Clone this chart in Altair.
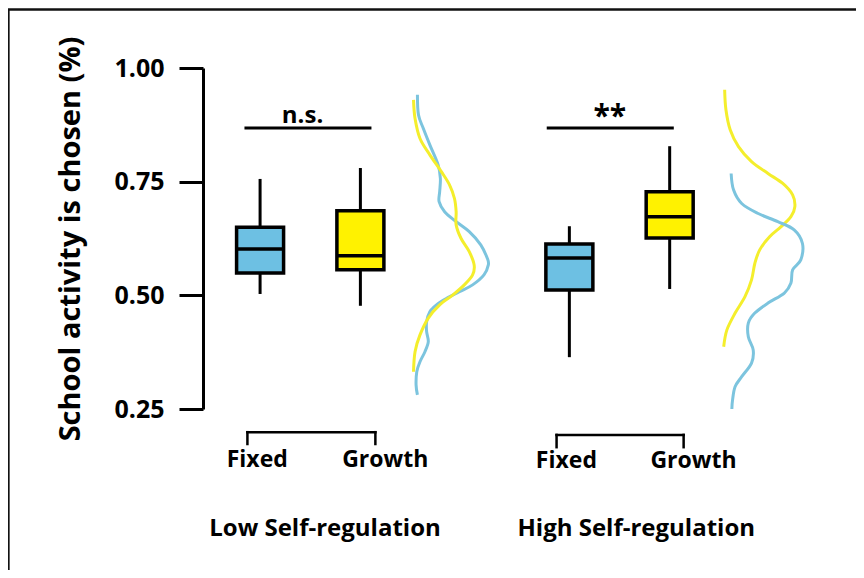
import altair as alt
import pandas as pd

# ---------------- data ----------------
groups = ["Low Self-regulation", "High Self-regulation"]
mindsets = ["Fixed", "Growth"]
box_group = ["Low", "Low", "High", "High"]
box_mindset = ["Fixed", "Growth", "Fixed", "Growth"]
box_lo = [0.503, 0.477, 0.364, 0.514]
box_q1 = [0.549, 0.556, 0.512, 0.626]
box_med = [0.602, 0.587, 0.582, 0.673]
box_q3 = [0.650, 0.686, 0.613, 0.728]
box_hi = [0.756, 0.780, 0.652, 0.828]
significance = ["n.s.", "**"]
tick_values = [0.25, 0.50, 0.75, 1.00]

# density curves (value, density position)
low_fixed_v = [.941, .897, .867, .831, .787, .757, .728, .706, .684, .662, .640, .611, .581, .567,
               .545, .523, .508, .493, .479, .464, .442, .420, .398, .376, .354, .332, .303, .281]
low_fixed_d = [3.257, 3.273, 3.349, 3.450, 3.579, 3.614, 3.603, 3.594, 3.680, 3.859, 4.063, 4.242,
               4.345, 4.360, 4.292, 4.115, 3.910, 3.706, 3.553, 3.450, 3.400, 3.400, 3.426, 3.374,
               3.297, 3.247, 3.236, 3.257]
low_growth_v = [.930, .889, .845, .809, .772, .743, .713, .684, .655, .625, .596, .567, .545, .523,
                .501, .479, .450, .413, .376, .332]
low_growth_d = [3.196, 3.220, 3.297, 3.450, 3.629, 3.756, 3.833, 3.859, 3.859, 3.936, 4.063, 4.139,
                4.115, 3.986, 3.809, 3.603, 3.426, 3.297, 3.220, 3.196]
high_growth_v = [.952, .908, .864, .827, .794, .768, .746, .721, .695, .673, .651, .629, .600, .570,
                 .534, .497, .461, .424, .387]
high_growth_d = [8.035, 8.055, 8.121, 8.250, 8.453, 8.709, 8.939, 9.092, 9.127, 9.066, 8.913, 8.734,
                 8.580, 8.504, 8.453, 8.351, 8.198, 8.070, 8.020]
high_fixed_v = [.768, .732, .702, .680, .662, .644, .614, .578, .556, .527, .505, .483, .461, .439,
                .409, .380, .351, .321, .299, .270, .250]
high_fixed_d = [8.136, 8.173, 8.300, 8.556, 8.862, 9.116, 9.245, 9.219, 9.092, 9.066, 8.963, 8.709,
                8.504, 8.403, 8.403, 8.479, 8.453, 8.300, 8.197, 8.158, 8.147]

# ---------------- layout (positions on the hidden x scale) ----------------
box_x = [0.81, 2.37, 5.62, 7.18]
sig_x1, sig_x2, sig_y = [0.567, 5.268], [2.542, 7.244], [0.868, 0.868]
sig_text_x, sig_text_y = [1.47, 6.248], [0.879, 0.872]
br_x1, br_x2 = [0.613, 5.421], [2.603, 7.397]
br_top, br_bot = [0.199, 0.193], [0.173, 0.166]
lab_x = [0.766, 2.757, 5.574, 7.551]
lab_y = [0.123, 0.123, 0.121, 0.121]
grp_x = [1.82, 6.66]
grp_y = [-0.029, -0.029]

W, H = 653, 341
BLUE, YELLOW = "#6DC0E3", "#FFF200"
DBLUE, DYELLOW = "#7CC4DE", "#F4EE2C"
FONT = "Open Sans"

xs = alt.Scale(domain=[0, 10], nice=False, zero=False)
ys = alt.Scale(domain=[0.25, 1.0], nice=False, zero=False)
fill_scale = alt.Scale(domain=mindsets, range=[BLUE, YELLOW])
y_axis = alt.Axis(values=tick_values, format=".2f", tickSize=24, tickWidth=3,
                  domainWidth=3, domainColor="black", tickColor="black",
                  labelFont=FONT, labelFontWeight="bold", labelFontSize=25,
                  labelColor="black", labelPadding=15,
                  title="School activity is chosen (%)", titleFont=FONT,
                  titleFontWeight="bold", titleFontSize=29, titleColor="black",
                  titlePadding=28, grid=False)

boxes = pd.DataFrame({"group": box_group, "mindset": box_mindset, "x": box_x,
                      "lo": box_lo, "q1": box_q1, "med": box_med, "q3": box_q3, "hi": box_hi})

rows = []
for name, vs, ds in [("LF", low_fixed_v, low_fixed_d), ("LG", low_growth_v, low_growth_d),
                     ("HG", high_growth_v, high_growth_d), ("HF", high_fixed_v, high_fixed_d)]:
    for i, (v, d) in enumerate(zip(vs, ds)):
        rows.append({"curve": name, "i": i, "v": v, "d": d,
                     "mindset": "Fixed" if name.endswith("F") else "Growth"})
dens = pd.DataFrame(rows)

sig = pd.DataFrame({"x1": sig_x1, "x2": sig_x2, "y": sig_y,
                    "tx": sig_text_x, "ty": sig_text_y, "label": significance})
br = pd.DataFrame({"x1": br_x1, "x2": br_x2, "top": br_top, "bot": br_bot})
labs = pd.DataFrame({"label": mindsets * 2, "x": lab_x, "y": lab_y})
grps = pd.DataFrame({"label": groups, "x": grp_x, "y": grp_y})
one = pd.DataFrame({"a": [0]})

whisk = alt.Chart(boxes).mark_rule(strokeWidth=3, color="black").encode(
    x=alt.X("x:Q", scale=xs, axis=None),
    y=alt.Y("lo:Q", scale=ys, axis=y_axis),
    y2="hi:Q",
)

density_layer = alt.Chart(dens).mark_line(strokeWidth=3, interpolate="cardinal").encode(
    x=alt.X("d:Q", scale=xs, axis=None),
    y=alt.Y("v:Q", scale=ys, axis=y_axis),
    detail="curve:N",
    order="i:Q",
    color=alt.Color("mindset:N", scale=alt.Scale(domain=mindsets, range=[DBLUE, DYELLOW]), legend=None),
)

box_layer = alt.Chart(boxes).mark_bar(size=47, stroke="black", strokeWidth=3.5).encode(
    x=alt.X("x:Q", scale=xs, axis=None),
    y=alt.Y("q1:Q", scale=ys, axis=y_axis),
    y2="q3:Q",
    fill=alt.Fill("mindset:N", scale=fill_scale, legend=None),
)

med_layer = alt.Chart(boxes).mark_tick(orient="horizontal", size=47, thickness=3.5, color="black",
                                       opacity=1).encode(
    x=alt.X("x:Q", scale=xs, axis=None),
    y=alt.Y("med:Q", scale=ys, axis=y_axis),
)

sig_rule = alt.Chart(sig).mark_rule(strokeWidth=3, color="black").encode(
    x=alt.X("x1:Q", scale=xs, axis=None), x2="x2:Q",
    y=alt.Y("y:Q", scale=ys, axis=y_axis),
)
sig_ns = alt.Chart(sig).transform_filter(alt.datum.label == "n.s.").mark_text(
    font=FONT, fontWeight="bold", fontSize=24, color="black",
    baseline="alphabetic", align="center").encode(
    x=alt.X("tx:Q", scale=xs, axis=None),
    y=alt.Y("ty:Q", scale=ys, axis=y_axis),
    text="label:N",
)
sig_star = alt.Chart(sig).transform_filter(alt.datum.label == "**").mark_text(
    font=FONT, fontWeight="bold", fontSize=30, color="black",
    baseline="alphabetic", align="center").encode(
    x=alt.X("tx:Q", scale=xs, axis=None),
    y=alt.Y("ty:Q", scale=ys, axis=y_axis),
    text="label:N",
)

br_h = alt.Chart(br).mark_rule(strokeWidth=2.5, color="black", strokeCap="square").encode(
    x=alt.X("x1:Q", scale=xs, axis=None), x2="x2:Q",
    y=alt.Y("top:Q", scale=ys, axis=y_axis),
)
br_v = alt.Chart(br).transform_fold(["x1", "x2"], as_=["side", "xx"]).mark_rule(
    strokeWidth=2.5, color="black", strokeCap="square").encode(
    x=alt.X("xx:Q", scale=xs, axis=None),
    y=alt.Y("top:Q", scale=ys, axis=y_axis),
    y2="bot:Q",
)

lab_layer = alt.Chart(labs).mark_text(font=FONT, fontWeight="bold", fontSize=23, color="black",
                                      baseline="alphabetic", align="center").encode(
    x=alt.X("x:Q", scale=xs, axis=None),
    y=alt.Y("y:Q", scale=ys, axis=y_axis),
    text="label:N",
)
grp_layer = alt.Chart(grps).mark_text(font=FONT, fontWeight="bold", fontSize=24, color="black",
                                      baseline="alphabetic", align="center").encode(
    x=alt.X("x:Q", scale=xs, axis=None),
    y=alt.Y("y:Q", scale=ys, axis=y_axis),
    text="label:N",
)

frame_left = alt.Chart(one).mark_rule(strokeWidth=2.3, color="#111111").encode(
    x=alt.value(-194.5), y=alt.value(-59), y2=alt.value(H + 161))
frame_top = alt.Chart(one).mark_rule(strokeWidth=2.3, color="#111111").encode(
    x=alt.value(-195.6), x2=alt.value(W), y=alt.value(-58.5))

chart = alt.layer(
    whisk, density_layer, box_layer, med_layer, sig_rule, sig_ns, sig_star,
    br_h, br_v, lab_layer, grp_layer, frame_left, frame_top,
).properties(
    width=W, height=H,
    autosize=alt.AutoSizeParams(type="none"),
    padding={"left": 195, "top": 60, "right": 0, "bottom": 161},
    background="white",
).configure_view(stroke=None)

chart.save("out.html", embed_options={"renderer": "svg", "actions": False})
